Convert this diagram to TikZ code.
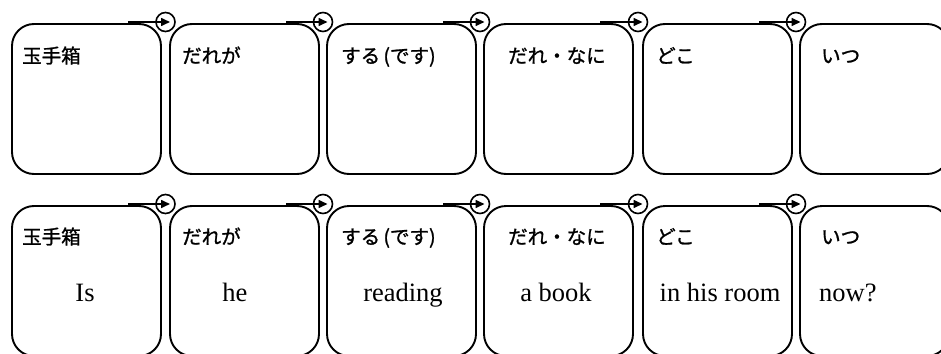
\documentclass[tikz,border=0pt]{standalone}
\usepackage{fontspec}
\setmainfont{Liberation Serif}
\newfontfamily\jp[FakeBold=1.2]{Noto Sans CJK JP}
\usetikzlibrary{arrows.meta}
\begin{document}
\begin{tikzpicture}[x=1pt,y=-1pt,
  box/.style={draw, line width=1.9pt, rounded corners=22pt, minimum width=149pt, minimum height=150pt, inner sep=0pt, outer sep=0pt, anchor=north west},
  ring/.style={draw, circle, line width=1.6pt, minimum size=19pt, inner sep=0pt, outer sep=0pt},
  arr/.style={line width=1.6pt, -{Triangle[length=9pt,width=8pt]}},
  jl/.style={anchor=base west, inner sep=0pt, font=\jp\fontsize{19.5}{20}\selectfont},
  en/.style={anchor=base, inner sep=0pt, font=\fontsize{26.5}{28}\selectfont}]
\useasboundingbox (0,0) rectangle (941,353);
\fill[white] (0,0) rectangle (941,353);
\clip (0,0) rectangle (941,353);
% top row boxes
\node[box] (t1) at (12,24) {};
\node[box] (t2) at (170,24) {};
\node[box] (t3) at (327,24) {};
\node[box] (t4) at (484,24) {};
\node[box] (t5) at (643,24) {};
\node[box] (t6) at (800,24) {};
% bottom row boxes
\node[box] (b1) at (12,206) {};
\node[box] (b2) at (170,206) {};
\node[box] (b3) at (327,206) {};
\node[box] (b4) at (484,206) {};
\node[box] (b5) at (643,206) {};
\node[box] (b6) at (800,206) {};
% rings and arrows
\foreach \r/\cx in {t/0,b/182}{
  \node[ring] (\r c1) at (165.5,22+\cx) {};
  \node[ring] (\r c2) at (323,22+\cx) {};
  \node[ring] (\r c3) at (480,22+\cx) {};
  \node[ring] (\r c4) at (638,22+\cx) {};
  \node[ring] (\r c5) at (796,22+\cx) {};
  \foreach \i in {1,...,5}{
    \coordinate (\r s\i) at ([xshift=-33pt,yshift=2pt]\r\i.north east);
    \draw[arr] (\r s\i) -- ([xshift=4.5pt]\r c\i.center);
  }
}
% Japanese labels
\foreach \r/\y in {t/63,b/244}{
  \node[jl] (\r l1) at (22,\y) {玉手箱};
  \node[jl] (\r l2) at (182,\y) {だれが};
  \node[jl] (\r l3) at (341,\y) {する\,(です)};
  \node[jl] (\r l4) at (508,\y) {だれ・なに};
  \node[jl] (\r l5) at (656,\y) {どこ};
  \node[jl] (\r l6) at (821,\y) {いつ};
}
% English words
\node[en] (e1) at (85,301) {Is};
\node[en] (e2) at (235,301) {he};
\node[en] (e3) at (403,301) {reading};
\node[en] (e4) at (556,301) {a book};
\node[en] (e5) at (720,301) {in his room};
\node[en, anchor=base west] (e6) at (819,301) {now?};
\end{tikzpicture}
\end{document}
